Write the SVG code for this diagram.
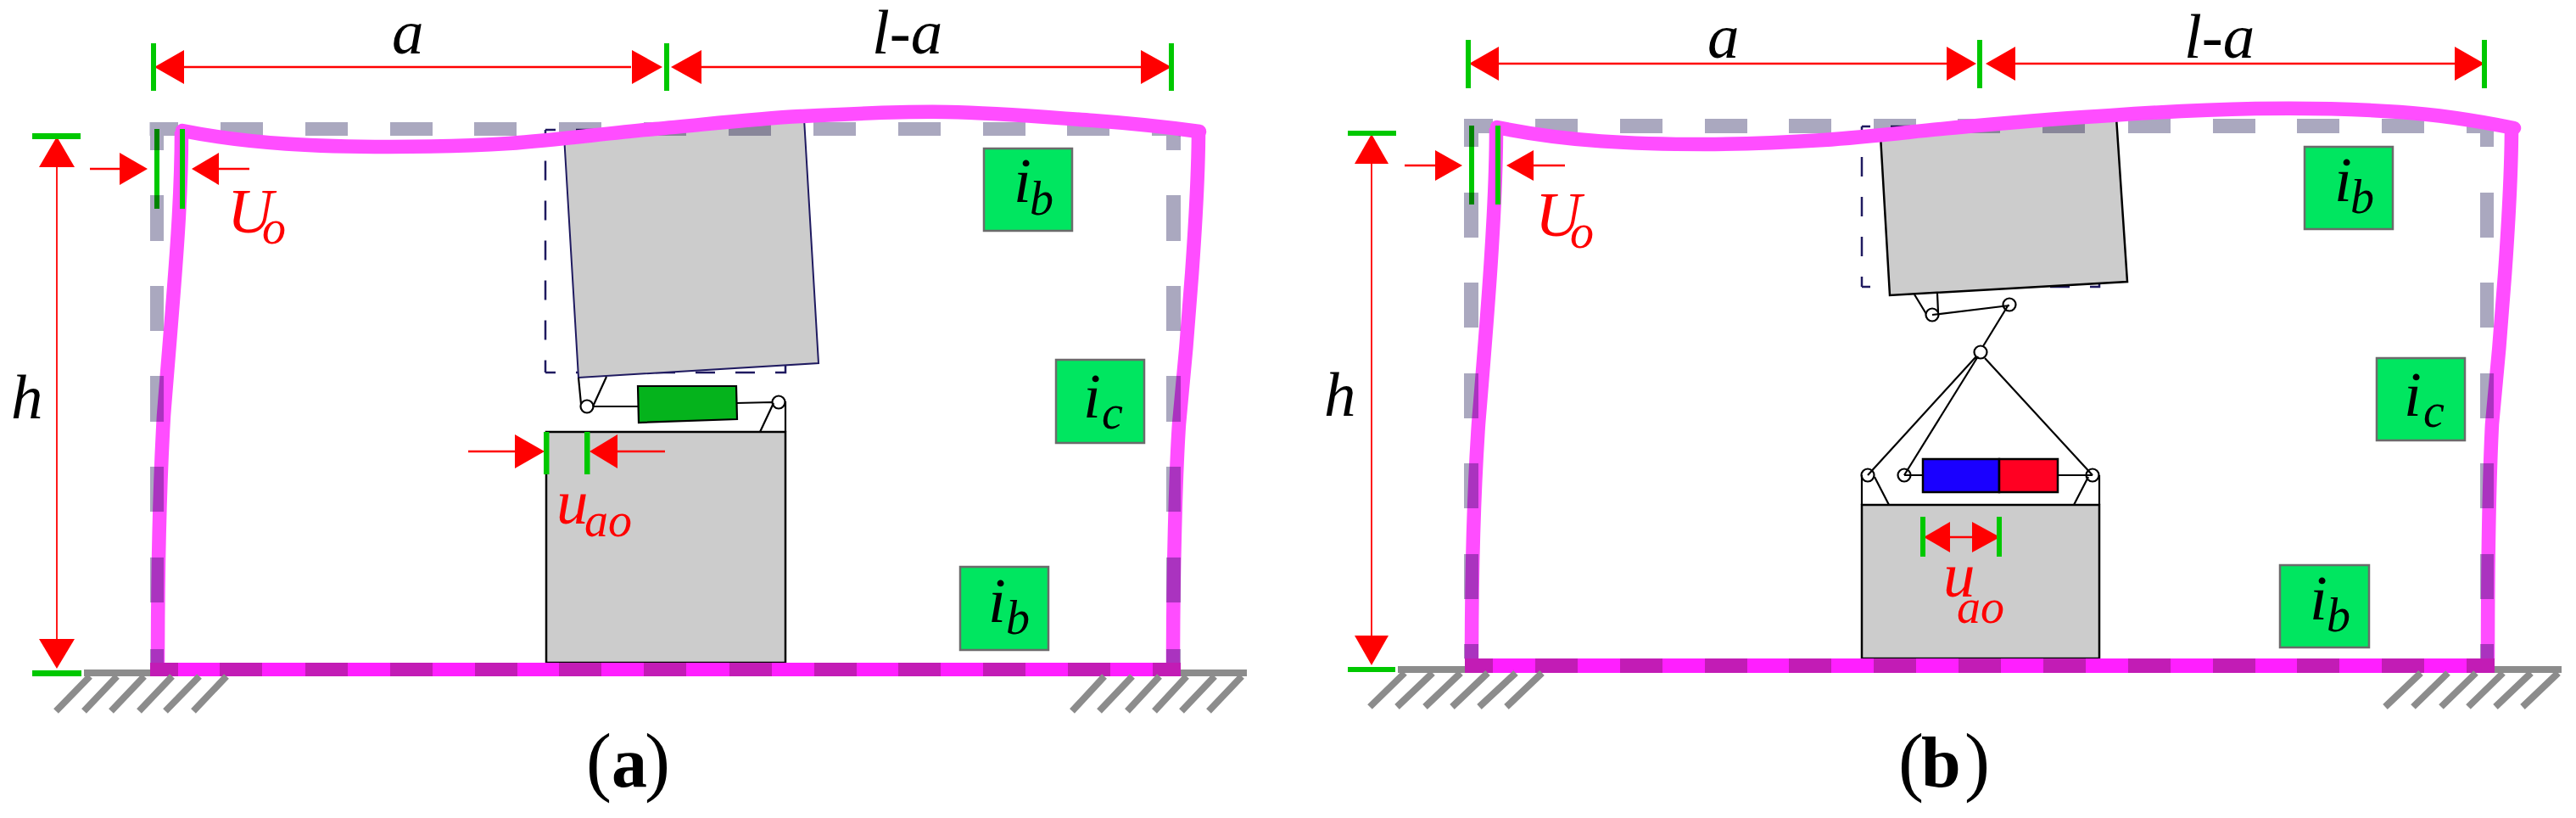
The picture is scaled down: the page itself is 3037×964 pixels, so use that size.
<svg xmlns="http://www.w3.org/2000/svg" width="3037" height="964" viewBox="0 0 3037 964">
<style>
text{font-family:"Liberation Serif","Times New Roman",serif}
.it{font-style:italic;font-size:75px}
.sub{font-size:56px}
.red{fill:#ff0000}
.blk{fill:#000}
.par{font-size:90px}
.cap{font-size:84px;font-weight:bold}
.dim{stroke:#ff0000;stroke-width:2.7;fill:none}
.dimv{stroke:#ff0000;stroke-width:1.8;fill:none}
.head{fill:#ff0000}
.tick{fill:#00c800}
.mul{mix-blend-mode:multiply}
.ghost{fill:#aaa8bf;mix-blend-mode:multiply}
.frame{fill:none;stroke:#ff4dff;stroke-width:16.500}
.floor{fill:#ff1fff}
.floord{fill:#c21cb5}
.ground{fill:#8c8c8c}
.hatch{stroke:#8c8c8c;stroke-width:8;fill:none}
.label{fill:#00e660;stroke:#6b6b6b;stroke-width:2.5}
.blocka{fill:#cccccc;stroke:#1f1a60;stroke-width:2}
.blockb{fill:#cccccc;stroke:#000;stroke-width:2.5}
.dash{fill:none;stroke:#1f1a60;stroke-width:2.5;stroke-dasharray:23 24}
.ln{fill:none;stroke:#000;stroke-width:2.2}
.pin{fill:none;stroke:#000;stroke-width:2.2}
</style>

<g id="panel-a">
  <g id="a-upper-block">
    <path class="dash" stroke-dashoffset="10.5" d="M643,153V439"/>
    <path class="dash" stroke-dashoffset="11" d="M643,439H926V430"/>
    <path class="dash" stroke-dashoffset="11" d="M643,153H926"/>
    <polygon class="blocka" points="665,160 948,140 965,428 682,445"/>
  </g>
  <g id="a-lower-block">
    <rect class="blockb" x="644" y="509" width="282" height="272"/>
  </g>
  <g id="a-damper">
    <polygon points="752,455 868,455 869,494 753,498" fill="#05b31c" stroke="#000" stroke-width="2.2"/>
    <circle class="pin" cx="692" cy="479" r="7.5"/>
    <circle class="pin" cx="918" cy="474" r="7.5"/>
  </g>
  <g id="a-ghost-frame-top">
    <rect class="ghost" x="176.500" y="144" width="33.500" height="16"/>
    <rect class="ghost" x="260" y="144" width="50" height="16"/>
    <rect class="ghost" x="360" y="144" width="50" height="16"/>
    <rect class="ghost" x="460" y="144" width="50" height="16"/>
    <rect class="ghost" x="559" y="144" width="50" height="16"/>
    <rect class="ghost" x="659" y="144" width="50" height="16"/>
    <rect class="ghost" x="759" y="144" width="50" height="16"/>
    <rect class="ghost" x="859" y="144" width="50" height="16"/>
    <rect class="ghost" x="959" y="144" width="50" height="16"/>
    <rect class="ghost" x="1059" y="144" width="50" height="16"/>
    <rect class="ghost" x="1159" y="144" width="50" height="16"/>
    <rect class="ghost" x="1258" y="144" width="50" height="16"/>
    <rect class="ghost" x="1358" y="144" width="34" height="16"/>
  </g>
  <g id="a-deformed-frame">
    <path class="frame" stroke-linecap="round" d="M215,154C296,170 378,173 459,173C506,173 553,172 600,169C657,165 715,157 772,152C829,147 887,140 944,137C1002,134 1059,131 1117,132C1174,133 1232,138 1289,142C1330,145 1371,149 1414,155"/>
    <path class="frame" d="M1413,152C1413,240 1400,400 1390,500C1386,560 1383,680 1383,782"/>
    <path class="frame" d="M214,155C214,250 204,350 193,490C189,560 186,640 186,782"/>
    <rect class="floor" x="177" y="781" width="1215" height="16"/>
  </g>
  <g id="a-ghost-frame-sides">
    <rect class="ghost" x="177" y="160" width="16" height="17"/>
    <rect class="ghost" x="177" y="230" width="16" height="54"/>
    <rect class="ghost" x="177" y="337" width="16" height="53"/>
    <rect class="ghost" x="177" y="443" width="16" height="54"/>
    <rect class="ghost" x="177" y="550" width="16" height="53"/>
    <rect class="ghost" x="177" y="657" width="16" height="53"/>
    <rect class="ghost" x="177" y="765" width="16" height="16"/>
    <rect class="ghost" x="1375" y="160" width="17" height="17"/>
    <rect class="ghost" x="1375" y="230" width="17" height="54"/>
    <rect class="ghost" x="1375" y="337" width="17" height="53"/>
    <rect class="ghost" x="1375" y="443" width="17" height="54"/>
    <rect class="ghost" x="1375" y="550" width="17" height="53"/>
    <rect class="ghost" x="1375" y="657" width="17" height="53"/>
    <rect class="ghost" x="1375" y="765" width="17" height="16"/>
    <rect class="floord" x="177" y="781" width="33" height="16"/>
    <rect class="floord" x="259" y="781" width="50" height="16"/>
    <rect class="floord" x="360" y="781" width="50" height="16"/>
    <rect class="floord" x="460" y="781" width="50" height="16"/>
    <rect class="floord" x="560" y="781" width="50" height="16"/>
    <rect class="floord" x="659" y="781" width="50" height="16"/>
    <rect class="floord" x="759" y="781" width="50" height="16"/>
    <rect class="floord" x="860" y="781" width="50" height="16"/>
    <rect class="floord" x="960" y="781" width="50" height="16"/>
    <rect class="floord" x="1059" y="781" width="50" height="16"/>
    <rect class="floord" x="1159" y="781" width="50" height="16"/>
    <rect class="floord" x="1259" y="781" width="50" height="16"/>
    <rect class="floord" x="1359" y="781" width="33" height="16"/>
  </g>
  <g id="a-ground">
    <rect class="ground" x="99" y="789" width="78" height="8"/>
    <rect class="ground" x="1392" y="789" width="78" height="8"/>
    <path class="hatch" d="M106,797L66,838M138,797L99,838M170,797L131,838M203,797L164,838M235,797L195,838M267,797L228,838"/>
    <path class="hatch" d="M1302,797L1264,838M1335,797L1296,838M1367,797L1329,838M1399,797L1361,838M1432,797L1393,838M1464,797L1425,838"/>
  </g>
  <g id="a-label-ib-top">
    <rect class="label" x="1160" y="175" width="104" height="97"/>
    <text class="it blk" x="1195" y="238">i<tspan class="sub" x="1214" y="253">b</tspan></text>
  </g>
  <g id="a-label-ic">
    <rect class="label" x="1245" y="424" width="104" height="98"/>
    <text class="it blk" x="1277" y="492">i<tspan class="sub" x="1299" y="505">c</tspan></text>
  </g>
  <g id="a-label-ib-low">
    <rect class="label" x="1132" y="668" width="104" height="98"/>
    <text class="it blk" x="1165" y="733">i<tspan class="sub" x="1186" y="747">b</tspan></text>
  </g>
  <g id="a-dim-labels">
    <text class="it blk" x="462" y="63">a</text>
    <text class="it blk" x="1028" y="63">l-a</text>
    <text class="it blk" x="13" y="493">h</text>
    <text class="it red" x="268" y="274">U<tspan class="sub" x="309" y="287">o</tspan></text>
    <text class="it red" x="656" y="617">u<tspan class="sub" x="689" y="632">ao</tspan></text>
    <text class="par blk" x="691" y="927">(<tspan class="cap" x="721">a</tspan><tspan x="760">)</tspan></text>
  </g>
</g>

<g id="a-connectors">
  <path class="ln" d="M699,479H753M868,475L911,474M682,445L685,476M715,444L699,479M912,475L896,509M926,473V509"/>
  <path class="dim" d="M217,79H744M827,79H1345M106,199H141M258,199H294M552,532H607M728,532H784"/>
  <path class="dimv" d="M67,197V753"/>
  <polygon class="head" points="182,79 217,59 217,99"/>
  <polygon class="head" points="781,79 745,59 745,99"/>
  <polygon class="head" points="791,79 827,59 827,99"/>
  <polygon class="head" points="1381,79 1345,59 1345,99"/>
  <polygon class="head" points="67,161 46,197 88,197"/>
  <polygon class="head" points="67,788 46,753 88,753"/>
  <polygon class="head" points="174,199 141,180 141,218"/>
  <polygon class="head" points="226,199 258,180 258,218"/>
  <polygon class="head" points="642,532 607,512 607,552"/>
  <polygon class="head" points="695,532 728,512 728,552"/>
  <rect class="tick" x="178" y="51" width="6" height="56"/>
  <rect class="tick" x="783" y="51" width="6" height="56"/>
  <rect class="tick" x="1378" y="51" width="6" height="56"/>
  <rect class="tick" x="38" y="157" width="57" height="7"/>
  <rect class="tick" x="38" y="790" width="58" height="7"/>
  <rect class="tick mul" x="182" y="152" width="6" height="94"/>
  <rect class="tick" x="212" y="152" width="6" height="94"/>
  <rect class="tick" x="641" y="509" width="6.500" height="50"/>
  <rect class="tick" x="689" y="509" width="6.500" height="50"/>
</g>

<g id="panel-b">
  <g id="b-upper-block">
    <path class="dash" stroke-dashoffset="11" d="M2195,149V338"/>
    <path class="dash" stroke-dashoffset="13" d="M2195,338H2475V326"/>
    <path class="dash" stroke-dashoffset="13" d="M2195,149H2475"/>
    <polygon class="blockb" points="2217,160 2495,138 2508,332 2228,348"/>
  </g>
  <g id="b-lower-block">
    <rect class="blockb" x="2195" y="595" width="280" height="181"/>
  </g>
  <g id="b-actuator">
    <rect x="2267" y="541" width="90" height="39" fill="#1a00ff" stroke="#000" stroke-width="2.5"/>
    <rect x="2357" y="541" width="69" height="39" fill="#ff0022" stroke="#000" stroke-width="2.5"/>
    <circle class="pin" cx="2278" cy="371" r="7.500"/>
    <circle class="pin" cx="2369" cy="359" r="7.500"/>
    <circle class="pin" cx="2335" cy="415" r="7.500"/>
    <circle class="pin" cx="2202" cy="560" r="7.500"/>
    <circle class="pin" cx="2245" cy="560" r="7.500"/>
    <circle class="pin" cx="2467" cy="560" r="7.500"/>
  </g>
  <g id="b-ghost-frame-top">
    <rect class="ghost" x="1726" y="140" width="34" height="17"/>
    <rect class="ghost" x="1810" y="140" width="50" height="17"/>
    <rect class="ghost" x="1910" y="140" width="50" height="17"/>
    <rect class="ghost" x="2010" y="140" width="50" height="17"/>
    <rect class="ghost" x="2109" y="140" width="50" height="17"/>
    <rect class="ghost" x="2209" y="140" width="50" height="17"/>
    <rect class="ghost" x="2308" y="140" width="50" height="17"/>
    <rect class="ghost" x="2408" y="140" width="50" height="17"/>
    <rect class="ghost" x="2509" y="140" width="50" height="17"/>
    <rect class="ghost" x="2609" y="140" width="50" height="17"/>
    <rect class="ghost" x="2708" y="140" width="50" height="17"/>
    <rect class="ghost" x="2808" y="140" width="50" height="17"/>
    <rect class="ghost" x="2908" y="140" width="32" height="17"/>
  </g>
  <g id="b-deformed-frame">
    <path class="frame" stroke-linecap="round" d="M1765,150C1847,167 1928,170 2010,170C2057,170 2103,168 2150,165C2207,161 2263,154 2320,149C2376,144 2433,139 2489,136C2546,132 2602,129 2659,128C2716,127 2772,128 2829,132C2874,135 2919,142 2964,151"/>
    <path class="frame" d="M2961,148C2961,240 2948,400 2938,500C2935,560 2933,680 2933,777"/>
    <path class="frame" d="M1764,151C1764,250 1752,390 1743,500C1739,560 1735,660 1735,777"/>
    <rect class="floor" x="1727" y="776" width="1214" height="17"/>
  </g>
  <g id="b-ghost-frame-sides">
    <rect class="ghost" x="1726" y="157" width="17" height="16"/>
    <rect class="ghost" x="1726" y="227" width="17" height="53"/>
    <rect class="ghost" x="1726" y="333" width="17" height="53"/>
    <rect class="ghost" x="1726" y="440" width="17" height="53"/>
    <rect class="ghost" x="1726" y="546" width="17" height="53"/>
    <rect class="ghost" x="1726" y="653" width="17" height="53"/>
    <rect class="ghost" x="1726" y="759" width="17" height="17"/>
    <rect class="ghost" x="2924" y="157" width="16" height="16"/>
    <rect class="ghost" x="2924" y="227" width="16" height="53"/>
    <rect class="ghost" x="2924" y="333" width="16" height="53"/>
    <rect class="ghost" x="2924" y="440" width="16" height="53"/>
    <rect class="ghost" x="2924" y="546" width="16" height="53"/>
    <rect class="ghost" x="2924" y="653" width="16" height="53"/>
    <rect class="ghost" x="2924" y="759" width="16" height="17"/>
    <rect class="floord" x="1727" y="776" width="33" height="17"/>
    <rect class="floord" x="1810" y="776" width="50" height="17"/>
    <rect class="floord" x="1910" y="776" width="50" height="17"/>
    <rect class="floord" x="2010" y="776" width="50" height="17"/>
    <rect class="floord" x="2109" y="776" width="50" height="17"/>
    <rect class="floord" x="2209" y="776" width="50" height="17"/>
    <rect class="floord" x="2309" y="776" width="50" height="17"/>
    <rect class="floord" x="2409" y="776" width="50" height="17"/>
    <rect class="floord" x="2509" y="776" width="50" height="17"/>
    <rect class="floord" x="2609" y="776" width="50" height="17"/>
    <rect class="floord" x="2708" y="776" width="50" height="17"/>
    <rect class="floord" x="2808" y="776" width="50" height="17"/>
    <rect class="floord" x="2908" y="776" width="33" height="17"/>
  </g>
  <g id="b-ground">
    <rect class="ground" x="1648" y="785" width="79" height="8"/>
    <rect class="ground" x="2941" y="785" width="79" height="8"/>
    <path class="hatch" d="M1656,793L1615,833M1689,793L1647,833M1722,793L1680,833M1754,793L1712,833M1787,793L1744,833M1818,793L1776,833"/>
    <path class="hatch" d="M2854,793L2812,833M2886,793L2845,833M2919,793L2878,833M2951,793L2910,833M2984,793L2942,833M3016,793L2974,833"/>
  </g>
  <g id="b-label-ib-top">
    <rect class="label" x="2717" y="173" width="104" height="97"/>
    <text class="it blk" x="2752" y="237">i<tspan class="sub" x="2771" y="251">b</tspan></text>
  </g>
  <g id="b-label-ic">
    <rect class="label" x="2802" y="422" width="104" height="97"/>
    <text class="it blk" x="2834" y="490">i<tspan class="sub" x="2857" y="503">c</tspan></text>
  </g>
  <g id="b-label-ib-low">
    <rect class="label" x="2688" y="666" width="105" height="97"/>
    <text class="it blk" x="2723" y="730">i<tspan class="sub" x="2743" y="744">b</tspan></text>
  </g>
  <g id="b-dim-labels">
    <text class="it blk" x="2013" y="68">a</text>
    <text class="it blk" x="2575" y="68">l-a</text>
    <text class="it blk" x="1561" y="490">h</text>
    <text class="it red" x="1810" y="278">U<tspan class="sub" x="1851" y="292">o</tspan></text>
    <text class="it red" x="2291" y="703">u<tspan class="sub" x="2307" y="734">ao</tspan></text>
    <text class="par blk" x="2238" y="927">(<tspan class="cap" x="2265">b</tspan><tspan x="2316">)</tspan></text>
  </g>
</g>

<g id="b-connectors">
  <path class="ln" d="M2257,347L2271,370M2284,346L2285,368M2278,371L2369,360M2368,359L2338,408M2330,420L2202,560M2332,420L2245,560M2340,422L2467,560M2195,560V595M2210,562L2227,595M2475,560V595M2462,562L2445,595M2245,560H2267M2426,560H2467"/>
  <path class="dim" d="M1767,75H2295M2376,75H2894M1656,195H1692M1808,195H1845M2299,633H2325"/>
  <path class="dimv" d="M1617,193V749"/>
  <polygon class="head" points="1732,75 1767,55 1767,95"/>
  <polygon class="head" points="2330,75 2295,55 2295,95"/>
  <polygon class="head" points="2341,75 2376,55 2376,95"/>
  <polygon class="head" points="2929,75 2894,55 2894,95"/>
  <polygon class="head" points="1617,158 1597,193 1637,193"/>
  <polygon class="head" points="1617,784 1597,749 1637,749"/>
  <polygon class="head" points="1724,195 1692,177 1692,213"/>
  <polygon class="head" points="1776,195 1808,177 1808,213"/>
  <polygon class="head" points="2268,633 2299,615 2299,651"/>
  <polygon class="head" points="2358,633 2325,615 2325,651"/>
  <rect class="tick" x="1728" y="47" width="6" height="57"/>
  <rect class="tick" x="2331" y="47" width="6" height="57"/>
  <rect class="tick" x="2926" y="47" width="6" height="57"/>
  <rect class="tick" x="1589" y="154" width="57" height="6"/>
  <rect class="tick" x="1589" y="786" width="56" height="6"/>
  <rect class="tick mul" x="1732" y="148" width="6" height="93"/>
  <rect class="tick" x="1763" y="148" width="6" height="93"/>
  <rect class="tick" x="2264" y="609" width="6" height="47"/>
  <rect class="tick" x="2354" y="609" width="6" height="47"/>
</g>
</svg>
